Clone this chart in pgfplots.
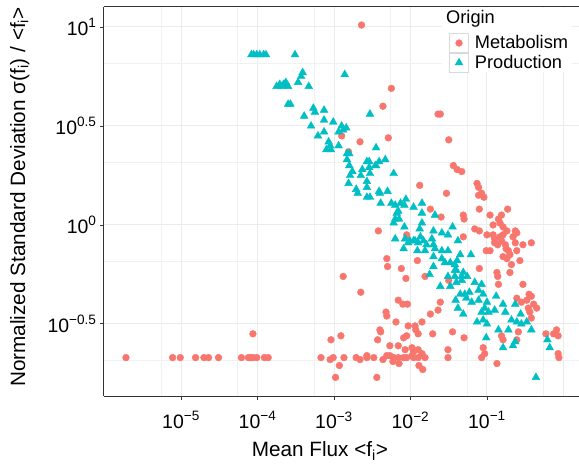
\documentclass[border=0pt]{standalone}
\usepackage{fontspec}
\setmainfont{Liberation Sans}
\usepackage{pgfplots}
\pgfplotsset{compat=1.18}
\definecolor{metab}{HTML}{F8766D}
\definecolor{prod}{HTML}{00BFC4}
\definecolor{gridc}{HTML}{EBEBEB}

\begin{document}
\begin{tikzpicture}
\useasboundingbox (-104bp,-68bp) rectangle (475bp,396bp);
\begin{axis}[
  at={(0,0)}, anchor=south west,
  scale only axis, width=475bp, height=389bp,
  xmin=-6.007, xmax=0.203, ymin=-0.864, ymax=1.101,
  axis x line*=box, axis y line*=left,
  axis line style={black!80, line width=1bp},
  xtick={-5,-4,-3,-2,-1},
  xticklabels={10\textsuperscript{−5},10\textsuperscript{−4},10\textsuperscript{−3},10\textsuperscript{−2},10\textsuperscript{−1}},
  ytick={-0.5,0,0.5,1},
  yticklabels={10\textsuperscript{−0.5},10\textsuperscript{0},10\textsuperscript{0.5},10\textsuperscript{1}},
  minor xtick={-5.26,-4.26,-3.26,-2.26,-1.26,-0.26},
  minor ytick={-0.682,-0.182,0.318,0.818},
  extra x ticks={0}, extra x tick labels={},
  extra x tick style={major tick length=0pt, grid=major},
  xtick pos=left, ytick pos=left,
  tick align=outside, major tick length=4bp, minor tick length=0pt,
  tick style={black!80, line width=0.9bp},
  grid=both,
  major grid style={gridc, line width=1bp},
  minor grid style={gridc!70, line width=0.6bp},
  tick label style={font=\fontsize{19.5}{21}\selectfont},
  xticklabel style={yshift=-8bp},
  label style={font=\fontsize{20.8}{23}\selectfont},
  xlabel={Mean Flux <f\textsubscript{i}>},
  ylabel={Normalized Standard Deviation σ(f\textsubscript{i}) / <f\textsubscript{i}>},
  xlabel style={at={(axis description cs:0.4547,-0.156)}, anchor=base},
  ylabel style={at={(axis description cs:-0.1663,0.5116)}, anchor=base},
  legend cell align=left,
  legend style={at={(rel axis cs:0.7263,0.9332)}, anchor=north west,
    draw=none, fill=none, inner sep=0pt, row sep=0pt,
    font=\fontsize{18.3}{20}\selectfont, nodes={inner sep=0pt},
    /tikz/every odd column/.append style={column sep=6bp}},
  legend image code/.code={
    \draw[black!15, fill=white, line width=0.7bp] (-9.5bp,-9.5bp) rectangle (9.5bp,9.5bp);
    \draw[#1] plot coordinates {(0bp,0bp)};
  },
]
\fill[white] (axis description cs:0.7116,0.8329) rectangle (axis description cs:0.9853,0.9974);
\node[anchor=base west, font=\fontsize{18.3}{20}\selectfont, inner sep=0pt] at (axis description cs:0.72,0.9563) {Origin};

% Metabolism
\addplot[only marks, mark=*, mark size=3.4bp, color=metab] coordinates {
(-5.72,-0.67) (-5.11,-0.67) (-5.01,-0.67) (-4.81,-0.67) (-4.70,-0.67) (-4.64,-0.67) (-4.51,-0.67)
(-4.21,-0.67) (-4.12,-0.67) (-4.09,-0.67) (-4.06,-0.67) (-4.01,-0.67) (-3.91,-0.67) (-3.86,-0.67)
(-4.06,-0.55)
(-3.17,-0.67) (-3.05,-0.68) (-3.01,-0.67) (-2.87,-0.67) (-2.71,-0.67) (-2.66,-0.68) (-2.57,-0.66)
(-2.57,-0.67) (-2.48,-0.67) (-2.36,-0.68) (-2.31,-0.66) (-2.27,-0.66) (-2.22,-0.67) (-2.16,-0.67)
(-2.09,-0.67) (-2.05,-0.67) (-1.98,-0.66) (-1.96,-0.67) (-1.90,-0.67) (-1.85,-0.66) (-1.81,-0.67)
(-1.51,-0.67) (-1.51,-0.63) (-1.07,-0.67) (-1.03,-0.65) (-1.05,-0.62) (-0.87,-0.70)
(-0.07,-0.65) (-0.06,-0.67) (-0.07,-0.56)
(-2.93,-0.71) (-2.98,-0.77) (-2.44,-0.77) (-2.15,-0.70) (-1.89,-0.71) (-1.84,-0.73) (-2.23,-0.69)
(-3.04,-0.58) (-2.91,-0.56) (-2.43,-0.58) (-2.40,-0.53) (-2.39,-0.54) (-2.32,-0.44) (-2.31,-0.46)
(-2.19,-0.49) (-2.27,-0.61)
(-2.16,-0.38) (-2.10,-0.40) (-2.04,-0.40) (-2.31,-0.17) (-2.30,-0.21) (-2.88,-0.26) (-2.65,-0.34)
(-2.42,-0.03)
(-2.03,-0.51) (-1.94,-0.51) (-1.85,-0.49) (-1.93,-0.53) (-1.90,-0.55) (-2.05,-0.56) (-2.09,-0.57)
(-1.61,-0.39) (-1.64,-0.43) (-1.74,-0.45) (-1.71,-0.55) (-1.45,-0.54) (-1.30,-0.57)
(-2.16,-0.61) (-2.07,-0.63) (-1.98,-0.62) (-1.96,-0.64) (-1.90,-0.63) (-1.85,-0.65)
(-0.87,-0.24) (-0.85,-0.30) (-0.70,-0.24) (-0.53,-0.30) (-0.61,-0.37) (-0.55,-0.39) (-0.48,-0.38)
(-0.45,-0.35) (-0.42,-0.36) (-0.39,-0.40) (-0.35,-0.42) (-0.46,-0.42) (-0.44,-0.44) (-0.42,-0.47)
(-0.59,-0.54) (-0.61,-0.58) (-0.81,-0.56) (-0.79,-0.58) (-0.23,-0.55) (-0.13,-0.55) (-0.09,-0.53)
(-2.06,-0.27) (-2.12,-0.22) (-1.81,-0.26) (-1.10,-0.22) (-0.86,-0.26) (-1.91,-0.18) (-1.50,-0.28)
(-2.05,-0.05)
(-1.88,0.20) (-1.53,0.16) (-1.13,0.21) (-1.11,0.19) (-1.11,0.15) (-1.07,0.16) (-1.04,0.14)
(-1.10,0.08) (-1.74,0.08) (-1.60,0.04) (-1.31,0.05) (-1.30,0.03) (-0.96,0.05) (-0.81,0.05)
(-0.73,0.08) (-0.85,0.03) (-0.92,0.00) (-0.83,0.01) (-0.79,-0.01) (-1.16,-0.02) (-1.10,-0.03)
(-1.00,-0.05) (-0.92,-0.05) (-0.90,-0.07) (-0.83,-0.06) (-0.79,-0.05) (-0.90,-0.09) (-0.86,-0.10)
(-0.81,-0.08) (-0.76,-0.10) (-0.74,-0.03) (-0.63,-0.03) (-0.61,-0.04) (-0.66,-0.06) (-0.63,-0.09)
(-0.53,-0.10) (-0.42,-0.09) (-0.75,-0.12) (-0.72,-0.13) (-0.70,-0.15) (-0.61,-0.13) (-0.79,-0.16)
(-0.74,-0.17) (-0.68,-0.20) (-0.57,-0.18) (-1.01,-0.13) (-0.96,-0.13) (-1.31,-0.06)
(-2.25,0.69) (-2.36,0.60) (-1.64,0.56) (-1.61,0.56) (-2.29,0.44) (-1.50,0.43) (-1.44,0.30)
(-1.39,0.28) (-1.33,0.27) (-2.64,1.01) (-2.90,0.45) (-2.66,0.42) (-2.81,0.37)
};
\addlegendentry{Metabolism}

% Production
\addplot[only marks, mark=triangle*, mark size=4.5bp, color=prod] coordinates {
(-4.08,0.86) (-4.05,0.86) (-4.01,0.86) (-3.97,0.86) (-3.92,0.86) (-3.89,0.86) (-3.51,0.86)
(-2.86,0.76) (-3.41,0.77) (-3.43,0.75) (-3.75,0.70) (-3.71,0.71) (-3.66,0.71) (-3.63,0.72)
(-3.60,0.70) (-3.68,0.70) (-3.47,0.72) (-3.33,0.70) (-3.60,0.61) (-3.57,0.61) (-2.53,0.56)
(-3.27,0.59) (-3.25,0.57) (-3.13,0.58) (-3.39,0.55) (-3.30,0.50) (-3.13,0.53) (-3.01,0.52)
(-2.90,0.50) (-2.84,0.49) (-2.94,0.47) (-2.88,0.48) (-3.21,0.45) (-3.13,0.47) (-2.45,0.39)
(-3.07,0.42) (-3.05,0.40) (-3.10,0.38) (-3.04,0.38) (-2.94,0.40) (-2.83,0.36) (-2.80,0.36)
(-2.83,0.33) (-2.33,0.33) (-2.57,0.32) (-2.46,0.30) (-2.80,0.30) (-2.76,0.27) (-2.79,0.25)
(-2.63,0.28) (-2.54,0.29) (-2.53,0.26) (-2.65,0.25) (-2.57,0.22) (-2.81,0.21) (-2.22,0.26)
(-2.71,0.18) (-2.69,0.16) (-2.57,0.19) (-2.41,0.17) (-2.30,0.17) (-2.57,0.14) (-2.53,0.14)
(-2.45,0.30) (-2.41,0.32) (-2.54,0.32) (-2.39,0.11) (-2.25,0.11) (-2.20,0.10) (-2.18,0.06)
(-2.22,0.01) (-2.20,-0.07) (-2.40,0.16) (-2.13,0.11) (-2.06,0.13) (-2.08,0.10) (-2.16,0.07)
(-2.20,0.03) (-2.15,0.03) (-2.08,-0.01) (-1.96,0.09) (-1.85,0.11) (-1.85,0.06) (-1.85,0.01)
(-1.88,-0.02) (-1.68,0.05) (-2.07,-0.07) (-2.09,-0.12) (-2.03,-0.09) (-1.96,-0.08) (-1.90,-0.09)
(-1.87,-0.06) (-1.83,-0.08) (-1.91,-0.13) (-1.81,-0.13) (-1.79,-0.10) (-1.72,-0.07) (-1.70,-0.03)
(-1.70,-0.10) (-1.68,-0.12) (-1.59,-0.04) (-1.51,-0.05) (-1.45,-0.01) (-1.38,-0.08) (-1.70,-0.16)
(-1.59,-0.13) (-1.51,-0.13) (-1.59,-0.17) (-1.70,-0.21) (-1.55,-0.19) (-1.35,-0.15) (-1.21,-0.15)
(-1.48,-0.19) (-1.42,-0.20) (-1.39,-0.18) (-1.75,-0.25) (-1.51,-0.26) (-1.42,-0.23) (-1.40,-0.23)
(-1.42,-0.26) (-1.33,-0.26) (-1.26,-0.26) (-1.61,-0.31) (-1.48,-0.31) (-1.40,-0.29) (-1.33,-0.28)
(-1.31,-0.24) (-1.41,-0.38) (-1.35,-0.35) (-1.29,-0.35) (-1.27,-0.37) (-1.38,-0.42) (-1.31,-0.45)
(-1.23,-0.34) (-1.20,-0.39) (-1.16,-0.29) (-1.11,-0.33) (-1.07,-0.30) (-1.05,-0.35) (-1.11,-0.38)
(-1.00,-0.39) (-1.03,-0.42) (-1.07,-0.44) (-1.13,-0.49) (-1.05,-0.48) (-1.00,-0.50) (-0.98,-0.44)
(-0.90,-0.43) (-0.88,-0.36) (-0.79,-0.40) (-0.76,-0.44) (-0.63,-0.40) (-0.68,-0.48) (-0.61,-0.49)
(-0.56,-0.45) (-0.55,-0.50) (-0.48,-0.49) (-0.85,-0.53) (-0.72,-0.53) (-0.42,-0.53) (-1.01,-0.57)
(-0.79,-0.62) (-0.66,-0.61) (-0.63,-0.59) (-0.21,-0.58) (-0.18,-0.62) (-0.36,-0.77) (-2.01,-0.08)
(-1.94,-0.08)
};
\addlegendentry{Production}
\end{axis}
\end{tikzpicture}
\end{document}
